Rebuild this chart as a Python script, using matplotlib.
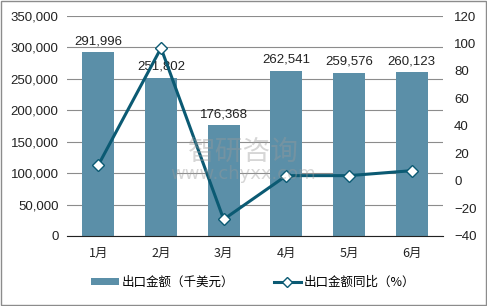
import matplotlib
matplotlib.use('Agg')
import matplotlib.pyplot as plt
from matplotlib.patches import Rectangle

plt.rcParams['font.family'] = ['Liberation Sans', 'Noto Sans CJK SC', 'DejaVu Sans']

months = ['1月', '2月', '3月', '4月', '5月', '6月']
export_value = [291996, 251802, 176368, 262541, 259576, 260123]
yoy_pct = [11.6, 96.7, -27.9, 3.9, 3.9, 7.5]

bar_color = '#5b8fa8'
line_color = '#0b5a73'
cjk = ['Noto Sans CJK SC', 'DejaVu Sans']

fig = plt.figure(figsize=(4.87, 3.06), dpi=100)
ax = fig.add_axes([0.1376, 0.2288, 0.7721, 0.7189])
ax2 = ax.twinx()

x = list(range(len(months)))
bars = ax.bar(x, export_value, width=0.51, color=bar_color, zorder=2,
              label='出口金额（千美元）')
for xi, v in zip(x, export_value):
    ax.text(xi, v + 8000, f'{v:,}', ha='center', va='bottom', fontsize=9.5,
            color='#222222', zorder=5)

ax.set_ylim(0, 350000)
ax.set_yticks(range(0, 350001, 50000))
ax.set_yticklabels([f'{v:,}' for v in range(0, 350001, 50000)], fontsize=9.5)
ax.set_xlim(-0.5, 5.5)
ax.set_xticks(x)
ax.set_xticklabels(months, family=cjk, fontsize=9)
ax.yaxis.grid(True, color='#8c8c8c', linewidth=0.8, zorder=0)
ax.set_axisbelow(True)
for s in ['top', 'right', 'left']:
    ax.spines[s].set_visible(False)
ax.spines['bottom'].set_color('#222222')
ax.tick_params(axis='both', length=0, colors='#222222')
ax.tick_params(axis='x', pad=8)
ax.tick_params(axis='y', pad=6)

line, = ax2.plot(x, yoy_pct, color=line_color, linewidth=2.2, marker='D',
                 markersize=6.5, markerfacecolor='white',
                 markeredgecolor=line_color, markeredgewidth=1.0,
                 zorder=4, label='出口金额同比（%）')
ax2.set_ylim(-40, 120)
ax2.set_yticks(range(-40, 121, 20))
for s in ['top', 'right', 'left', 'bottom']:
    ax2.spines[s].set_visible(False)
ax2.tick_params(axis='y', length=0, labelsize=9.5, colors='#222222', pad=8)

# watermark
fig.text(0.5, 0.505, '智研咨询', fontsize=20, color='#9a9a9a', alpha=0.4,
         ha='center', va='center', family=cjk)
fig.text(0.5, 0.43, 'www.chyxx.com', fontsize=13, color='#9a9a9a', alpha=0.4,
         ha='center', va='center', family='DejaVu Sans')

fig.legend(handles=[bars, line], loc='center', bbox_to_anchor=(0.52, 0.078),
           ncol=2, frameon=False, prop={'family': cjk, 'size': 9},
           handlelength=2.2, handleheight=0.5, columnspacing=3.2,
           handletextpad=0.2, markerscale=0.8)

fig.patches.append(Rectangle((0.002, 0.003), 0.995, 0.994, transform=fig.transFigure,
                             fill=False, edgecolor='#8c8c8c', linewidth=1))

fig.savefig('out.png', dpi=100)
